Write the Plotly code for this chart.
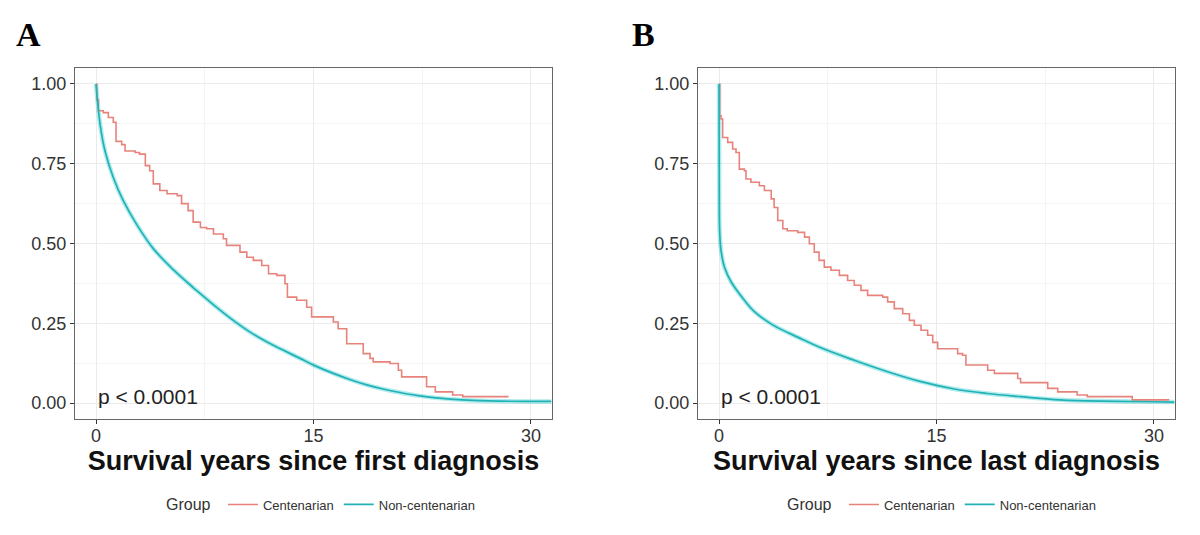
import plotly.graph_objects as go

# Panel A: survival since first diagnosis
a_cent_t = [0, 0.05, 0.16, 0.5, 0.85, 1.19, 1.38, 1.77, 2.0, 2.7, 3.0, 3.4, 3.7, 3.95, 4.4, 4.9,
            5.6, 5.9, 6.35, 6.7, 7.2, 7.63, 8.1, 8.78, 9.0, 9.93, 10.4, 10.85, 11.43, 11.9,
            12.46, 13.03, 13.2, 13.84, 14.53, 14.87, 16.37, 16.7, 17.29, 18.43, 18.9, 19.12,
            20.28, 20.85, 21.08, 22.8, 23.4, 24.6, 25.3, 28.4]
a_cent_s = [1.0, 0.95, 0.916, 0.91, 0.895, 0.88, 0.82, 0.81, 0.79, 0.785, 0.78, 0.744, 0.728,
            0.687, 0.666, 0.656, 0.65, 0.625, 0.603, 0.567, 0.55, 0.546, 0.53, 0.515, 0.494,
            0.473, 0.457, 0.447, 0.431, 0.405, 0.40, 0.374, 0.332, 0.322, 0.30, 0.27, 0.254,
            0.233, 0.186, 0.155, 0.14, 0.129, 0.124, 0.103, 0.082, 0.051, 0.035, 0.025, 0.02,
            0.017]
a_non_t = [0, 0.28, 0.62, 1.19, 1.88, 2.8, 3.95, 5.33, 6.7, 7.17, 8.32, 9.47, 10.6, 11.77, 12.9,
           14.07, 15.2, 16.37, 17.5, 18.67, 19.8, 20.97, 22.1, 23.3, 25.6, 27.9, 31.4]
a_non_s = [1.0, 0.874, 0.79, 0.707, 0.634, 0.56, 0.484, 0.418, 0.362, 0.344, 0.30, 0.259, 0.223,
           0.192, 0.166, 0.14, 0.115, 0.093, 0.074, 0.057, 0.044, 0.033, 0.024, 0.017, 0.009,
           0.006, 0.005]

# Panel B: survival since last diagnosis
b_cent_t = [0, 0.05, 0.14, 0.25, 0.6, 0.94, 1.17, 1.4, 1.75, 1.86, 2.2, 2.78, 3.13, 3.6, 3.8,
            4.05, 4.4, 4.7, 5.43, 5.9, 6.23, 6.57, 6.9, 7.26, 7.72, 8.3, 8.87, 9.33, 9.79,
            10.25, 11.29, 11.63, 12.09, 12.67, 13.13, 13.47, 13.93, 14.39, 14.74, 15.08, 16.46,
            16.8, 17.03, 18.53, 18.99, 20.6, 20.8, 22.67, 23.36, 24.7, 25.4, 28.5, 31.0]
b_cent_s = [1.0, 0.9, 0.89, 0.832, 0.817, 0.796, 0.785, 0.733, 0.728, 0.702, 0.692, 0.681,
            0.666, 0.64, 0.613, 0.572, 0.546, 0.54, 0.535, 0.52, 0.499, 0.473, 0.447, 0.426,
            0.416, 0.40, 0.384, 0.369, 0.353, 0.3375, 0.332, 0.317, 0.296, 0.28, 0.259, 0.244,
            0.228, 0.2125, 0.19, 0.17, 0.155, 0.15, 0.119, 0.103, 0.093, 0.077, 0.064, 0.046,
            0.035, 0.025, 0.02, 0.01, 0.008]
b_non_t = [0, 0.01, 0.02, 0.05, 0.14, 0.37, 0.83, 1.75, 2.4, 3.7, 5.5, 7.03, 9.33, 11.63, 13.93,
           16.23, 18.53, 20.8, 23.1, 25.4, 29.8, 31.4]
b_non_s = [1.0, 0.8, 0.6, 0.53, 0.478, 0.426, 0.38, 0.322, 0.288, 0.245, 0.205, 0.173, 0.134,
           0.098, 0.067, 0.044, 0.03, 0.02, 0.011, 0.007, 0.004, 0.003]

x_ticks = [0, 15, 30]
y_ticks = [0, 0.25, 0.5, 0.75, 1.0]
y_labels = ["0.00", "0.25", "0.50", "0.75", "1.00"]

RED = "#E8837B"
TEAL = "#22B2B6"

W, H = 1200, 535
OFF = 8  # page body margin around the plot div


def px_x(p):
    return (p - OFF) / W


def px_y(p):
    return 1 - (p - OFF) / H


fig = go.Figure()

panels = [
    ("x", "y", "legend", a_cent_t, a_cent_s, a_non_t, a_non_s),
    ("x2", "y2", "legend2", b_cent_t, b_cent_s, b_non_t, b_non_s),
]
for xa, ya, lg, ct, cs, nt, ns in panels:
    # pale band behind the non-centenarian line
    fig.add_trace(go.Scatter(x=nt, y=ns, mode="lines", xaxis=xa, yaxis=ya,
                             line=dict(color="rgba(0,191,196,0.3)", width=4.5, shape="spline"),
                             showlegend=False, hoverinfo="skip"))
    fig.add_trace(go.Scatter(x=ct, y=cs, mode="lines", xaxis=xa, yaxis=ya, name="Centenarian",
                             line=dict(color=RED, width=1.6, shape="hv"), legend=lg))
    fig.add_trace(go.Scatter(x=nt, y=ns, mode="lines", xaxis=xa, yaxis=ya, name="Non-centenarian",
                             line=dict(color=TEAL, width=1.7, shape="spline"), legend=lg))

tick_font = dict(family="Liberation Sans, Arial", size=18, color="#333333")
xaxis_common = dict(range=[-1.45, 31.45], tickvals=x_ticks, ticks="outside", ticklen=4,
                    tickcolor="#333333", showline=True, mirror=True, linecolor="#666666",
                    linewidth=1, showgrid=True, gridcolor="#EBEBEB", gridwidth=1, zeroline=False,
                    minor=dict(tick0=0, dtick=7.5, showgrid=True, gridcolor="#F4F4F4", gridwidth=1),
                    tickfont=tick_font, automargin=False, title_standoff=0,
                    ticklabelstandoff=-4)
yaxis_common = dict(range=[-0.05, 1.05], tickvals=y_ticks, ticktext=y_labels, ticks="outside",
                    ticklen=4, tickcolor="#333333", showline=True, mirror=True,
                    linecolor="#666666", linewidth=1, showgrid=True, gridcolor="#EBEBEB",
                    gridwidth=1, zeroline=False,
                    minor=dict(tick0=0, dtick=0.125, showgrid=True, gridcolor="#F4F4F4", gridwidth=1),
                    tickfont=tick_font, automargin=False)

title_font = dict(family="Liberation Sans, Arial", size=27, color="#111111")
legend_common = dict(orientation="h", xanchor="center", y=px_y(505), yanchor="middle",
                     itemwidth=30,
                     title=dict(text="Group ", font=dict(size=16, color="#333333")),
                     font=dict(family="Liberation Sans, Arial", size=13, color="#333333"))

fig.update_layout(
    width=W, height=H,
    margin=dict(l=0, r=0, t=0, b=0),
    paper_bgcolor="white", plot_bgcolor="white",
    xaxis=dict(xaxis_common, domain=[px_x(75), px_x(552)], anchor="y",
               title=dict(text="<b>Survival years since first diagnosis</b>", font=title_font)),
    yaxis=dict(yaxis_common, domain=[px_y(419), px_y(68)], anchor="x"),
    xaxis2=dict(xaxis_common, domain=[px_x(698), px_x(1175)], anchor="y2",
                title=dict(text="<b>Survival years since last diagnosis</b>", font=title_font)),
    yaxis2=dict(yaxis_common, domain=[px_y(419), px_y(68)], anchor="x2"),
    legend=dict(legend_common, x=px_x(322)),
    legend2=dict(legend_common, x=px_x(943)),
    annotations=[
        dict(text="<b>A</b>", x=px_x(14), y=px_y(34), xref="paper", yref="paper",
             xanchor="left", yanchor="middle", showarrow=False,
             font=dict(family="Liberation Serif, Times New Roman", size=34, color="black")),
        dict(text="<b>B</b>", x=px_x(630), y=px_y(34), xref="paper", yref="paper",
             xanchor="left", yanchor="middle", showarrow=False,
             font=dict(family="Liberation Serif, Times New Roman", size=34, color="black")),
        dict(text="p < 0.0001", x=0, y=0.02, xref="x", yref="y", xanchor="left",
             yanchor="middle", showarrow=False,
             font=dict(family="Liberation Sans, Arial", size=21, color="#222222")),
        dict(text="p < 0.0001", x=0, y=0.02, xref="x2", yref="y2", xanchor="left",
             yanchor="middle", showarrow=False,
             font=dict(family="Liberation Sans, Arial", size=21, color="#222222")),
    ],
)

fig.write_html("out.html")
